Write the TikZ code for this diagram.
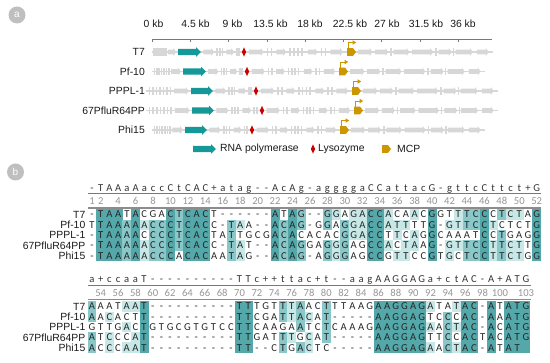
\documentclass[tikz,border=0pt]{standalone}
\usepackage{fontspec}
\setmainfont{Liberation Sans}
\newfontfamily\seqfont{Carlito}
\definecolor{tealD}{RGB}{84,168,170}
\definecolor{tealM}{RGB}{137,199,200}
\definecolor{tealL}{RGB}{200,232,232}
\definecolor{genegray}{RGB}{215,215,215}
\definecolor{polteal}{RGB}{20,152,152}
\definecolor{lysred}{RGB}{204,0,0}
\definecolor{mcpgold}{RGB}{204,150,0}
\definecolor{badgegray}{RGB}{191,191,191}
\definecolor{numgray}{RGB}{150,150,150}
\definecolor{rulegray}{RGB}{120,120,120}
\tikzset{
  lbl/.style={font=\fontsize{10.4}{12}\selectfont, text=black!90, inner sep=0pt},
  seqtxt/.style={font=\seqfont\fontsize{10.6}{12}\selectfont, text=black!85, inner sep=0pt, anchor=base},
  constxt/.style={font=\seqfont\fontsize{10.6}{12}\selectfont, text=black!80, inner sep=0pt, anchor=base},
  numtxt/.style={font=\seqfont\fontsize{10.6}{12}\selectfont, text=numgray, inner sep=0pt, anchor=base},
  badge/.style={circle, fill=badgegray, text=white, minimum size=17pt, inner sep=0pt, font=\fontsize{10}{12}\selectfont},
}
\ExplSyntaxOn
\int_new:N \l_aln_n_int
\int_new:N \l_aln_row_int
\bool_new:N \l_aln_text_bool
\tl_new:N \l_aln_c_tl
\tl_new:N \l_aln_x_tl
\tl_new:N \l_aln_y_tl
\tl_new:N \l_aln_xa_tl
\tl_new:N \l_aln_xb_tl
\tl_new:N \l_aln_ya_tl
\tl_new:N \l_aln_yb_tl
\tl_new:N \l_aln_yt_tl
\tl_new:N \l_aln_fill_tl
\tl_new:N \l_aln_col_tl
\tl_new:N \l_aln_ca_tl
\tl_new:N \l_aln_cb_tl
\tl_new:N \l_aln_cc_tl
\tl_new:N \l_aln_cd_tl
\tl_new:N \l_aln_ce_tl
\str_new:N \l_aln_ra_str
\str_new:N \l_aln_rb_str
\str_new:N \l_aln_rc_str
\str_new:N \l_aln_rd_str
\str_new:N \l_aln_re_str
\fp_const:Nn \c_aln_dy_fp { 10.3 }
\cs_generate_variant:Nn \str_item:Nn { c }
\cs_new_protected:Npn \aln_count:N #1
  {
    \int_zero:N \l_aln_n_int
    \clist_map_inline:nn { a , b , c , d , e }
      {
        \str_if_eq:eeTF { #1 } { \tl_use:c { l_aln_c ##1 _tl } }
          { \int_incr:N \l_aln_n_int }
          {
            \str_if_eq:eeT { . } { \tl_use:c { l_aln_c ##1 _tl } }
              { \int_incr:N \l_aln_n_int }
          }
      }
  }
\cs_new_protected:Npn \aln_pass:nnn #1#2#3
  {
    \int_step_variable:nNn { \str_count:N \l_aln_ra_str } \l_aln_col_tl
      {
        \clist_map_inline:nn { a , b , c , d , e }
          { \tl_set:cx { l_aln_c ##1 _tl } { \str_item:cn { l_aln_r ##1 _str } { \l_aln_col_tl } } }
        \tl_set:Nx \l_aln_x_tl { \fp_eval:n { #1 + ( \l_aln_col_tl - 1 ) * #3 } }
        \tl_set:Nx \l_aln_xa_tl { \fp_eval:n { \l_aln_x_tl - #3 / 2 - 0.1 } }
        \tl_set:Nx \l_aln_xb_tl { \fp_eval:n { \l_aln_x_tl + #3 / 2 + 0.1 } }
        \int_zero:N \l_aln_row_int
        \clist_map_inline:nn { a , b , c , d , e }
          {
            \tl_set_eq:Nc \l_aln_c_tl { l_aln_c ##1 _tl }
            \tl_set:Nx \l_aln_y_tl { \fp_eval:n { #2 + \l_aln_row_int * \c_aln_dy_fp } }
            \int_incr:N \l_aln_row_int
            \tl_set:Nx \l_aln_ya_tl { \fp_eval:n { \l_aln_y_tl - \c_aln_dy_fp / 2 - 0.1 } }
            \tl_set:Nx \l_aln_yb_tl { \fp_eval:n { \l_aln_y_tl + \c_aln_dy_fp / 2 + 0.1 } }
            \tl_set:Nx \l_aln_yt_tl { \fp_eval:n { \l_aln_y_tl + 3.5 } }
            \tl_clear:N \l_aln_fill_tl
            \str_if_eq:eeTF { \l_aln_c_tl } { . }
              { \tl_set:Nn \l_aln_fill_tl { tealD } \tl_clear:N \l_aln_c_tl }
              {
                \str_if_eq:eeF { \l_aln_c_tl } { - }
                  {
                    \aln_count:N \l_aln_c_tl
                    \int_case:nn { \l_aln_n_int }
                      {
                        { 5 } { \tl_set:Nn \l_aln_fill_tl { tealD } }
                        { 4 } { \tl_set:Nn \l_aln_fill_tl { tealM } }
                        { 3 } { \tl_set:Nn \l_aln_fill_tl { tealL } }
                      }
                  }
              }
            \bool_if:NTF \l_aln_text_bool
              {
                \node [ seqtxt ] at ( \l_aln_x_tl , \l_aln_yt_tl ) { \l_aln_c_tl } ;
              }
              {
                \tl_if_empty:NF \l_aln_fill_tl
                  {
                    \fill [ fill = \l_aln_fill_tl ] ( \l_aln_xa_tl , \l_aln_ya_tl ) rectangle ( \l_aln_xb_tl , \l_aln_yb_tl ) ;
                  }
              }
          }
      }
  }
\cs_new_protected:Npn \aln_block:nnnnnnnn #1#2#3#4#5#6#7#8
  {
    \str_set:Nn \l_aln_ra_str {#4}
    \str_set:Nn \l_aln_rb_str {#5}
    \str_set:Nn \l_aln_rc_str {#6}
    \str_set:Nn \l_aln_rd_str {#7}
    \str_set:Nn \l_aln_re_str {#8}
    \bool_set_false:N \l_aln_text_bool
    \aln_pass:nnn {#1} {#2} {#3}
    \bool_set_true:N \l_aln_text_bool
    \aln_pass:nnn {#1} {#2} {#3}
  }
\cs_new_protected:Npn \aln_plain:nnnnn #1#2#3#4#5
  {
    \str_set:Nn \l_aln_ra_str {#5}
    \int_step_variable:nNn { \str_count:N \l_aln_ra_str } \l_aln_col_tl
      {
        \tl_set:Nx \l_aln_x_tl { \fp_eval:n { #1 + ( \l_aln_col_tl - 1 ) * #3 } }
        \tl_set:Nx \l_aln_c_tl { \str_item:Nn \l_aln_ra_str { \l_aln_col_tl } }
        \node [ #4 ] at ( \l_aln_x_tl , #2 ) { \l_aln_c_tl } ;
      }
  }
\NewDocumentCommand \AlnBlock { m m m m m m m m } { \aln_block:nnnnnnnn {#1} {#2} {#3} {#4} {#5} {#6} {#7} {#8} }
\NewDocumentCommand \AlnPlain { m m m m m } { \aln_plain:nnnnn {#1} {#2} {#3} {#4} {#5} }
\ExplSyntaxOff

% ---- genome map helpers ----
\newcommand\gene[3]{% x1 x2 y
  \pgfmathsetmacro\gh{max(#1,#2-2.8)}%
  \fill[genegray] (#1,#3-2.4) -- (\gh,#3-2.4) -- (\gh,#3-3.8) -- (#2,#3) -- (\gh,#3+3.8) -- (\gh,#3+2.4) -- (#1,#3+2.4) -- cycle;}
\newcommand\gtick[2]{\fill[genegray] (#1-0.75,#2-3.6) rectangle (#1+0.75,#2+3.6);}
\newcommand\region[5]{% x1 x2 y genes ticks
  \foreach \a/\b in {#4} {\pgfmathsetmacro\ga{(#1)+\a*((#2)-(#1))}\pgfmathsetmacro\gb{(#1)+\b*((#2)-(#1))}\gene{\ga}{\gb}{#3}}%
  \foreach \f in {#5} {\pgfmathsetmacro\gx{(#1)+\f*((#2)-(#1))}\gtick{\gx}{#3}}}
\newcommand\polarrow[3]{% x1 x2 y
  \fill[polteal] (#1,#3-3.2) -- (#2-5,#3-3.2) -- (#2-5,#3-4.8) -- (#2,#3) -- (#2-5,#3+4.8) -- (#2-5,#3+3.2) -- (#1,#3+3.2) -- cycle;}
\newcommand\lys[2]{\fill[lysred] (#1,#2-4.6) -- (#1+2.1,#2) -- (#1,#2+4.6) -- (#1-2.1,#2) -- cycle;}
\newcommand\mcpbox[2]{\fill[mcpgold] (#1,#2-3.9) -- (#1+6,#2-3.9) -- (#1+9,#2) -- (#1+6,#2+3.9) -- (#1,#2+3.9) -- cycle;}
\newcommand\mcp[2]{% x y
  \mcpbox{#1}{#2}
  \draw[mcpgold, line width=0.8] (#1+1,#2-3.9) -- (#1+1,#2-9.5) -- (#1+6,#2-9.5);
  \fill[mcpgold] (#1+5.5,#2-11.8) -- (#1+9.2,#2-9.5) -- (#1+5.5,#2-7.2) -- cycle;}
\newcommand\track[9]{% name y start end t1 t2 red mcp label
  \node[lbl, anchor=east] (#1) at (145,#2) {#9};
  \draw[genegray, line width=1.3] (#3,#2) -- (#4,#2);
  \region{#3}{#5-1}{#2}{0.64/0.97}{0.08,0.16,0.24,0.32,0.4,0.48,0.56}
  \region{#6+1.5}{#7-3}{#2}{0.02/0.3,0.62/0.82}{0.38,0.45,0.52,0.89,0.95}
  \region{#7+3}{#8-2}{#2}{0.02/0.17,0.3/0.4,0.62/0.72,0.85/0.98}{0.21,0.25,0.44,0.48,0.52,0.56,0.76,0.8}
  \region{#8+11}{#4-3}{#2}{0/0.11,0.13/0.23,0.27/0.39,0.41/0.57,0.61/0.71,0.74/0.87,0.9/0.99}{0.25,0.59,0.725}
  \polarrow{#5}{#6}{#2}
  \lys{#7}{#2}
  \mcp{#8}{#2}}

\begin{document}
\begin{tikzpicture}[x=1pt,y=-1pt]
\useasboundingbox (0,0) rectangle (550,363);
% ===== panel a =====
\node[badge] (ba) at (17,15) {a};
\foreach \lab/\cx [count=\i from 0] in {0 kb/153.5,4.5 kb/195.5,9 kb/232.5,13.5 kb/270.5,18 kb/310,22.5 kb/350,27 kb/387,31.5 kb/426,36 kb/463}
  {\node[lbl] (ax\i) at (\cx,23.5) {\lab};
   \draw[rulegray, line width=0.7] ({152+\i*38.3},39.5) -- ++(0,3);}
\draw[rulegray, line width=0.7] (152,39.5) -- (492,39.5);
\track{tT}{52}{152}{493}{178}{201}{244}{347}{T7}
\track{tP}{71.5}{152}{485}{183}{206}{247}{339}{Pf-10}
\track{tL}{91}{146}{498}{191}{213}{256}{352}{PPPL-1}
\track{tS}{110.5}{146}{498}{192}{214}{262}{354}{67PfluR64PP}
\track{tH}{130}{152}{485}{185}{207}{252}{340}{Phi15}
% legend
\polarrow{193}{216}{149}
\node[lbl, anchor=west] (lg1) at (220,149) {RNA polymerase};
\lys{313}{149}
\node[lbl, anchor=west] (lg2) at (318,149) {Lysozyme};
\mcpbox{382}{149}
\node[lbl, anchor=west] (lg3) at (397,149) {MCP};
% ===== panel b =====
\node[badge] (bb) at (15.5,172) {b};
% block 1
\AlnPlain{92}{191.5}{8.72}{constxt}{-TAAaAaccCtCAC+atag--AcAg-aggggaCCattacG-gttcCttct+G}
\draw[rulegray, line width=0.7] (88,193.8) -- (541,193.8);
\foreach \c in {1,2,4,6,...,52} \node[numtxt] at ({92+(\c-1)*8.72},204.8) {\c};
\draw[black!45, line width=1.5] (88,208) -- (541,208);
\AlnBlock{92}{214.5}{8.72}
  {-TAATACGACTCACT------ATAG--GGAGACCACAACGGTTTCCCTCTAG}
  {TTAAAAACCCTCACC-TAA--ACAG-GGAGGACCATTTTG-GTTCCTCTCTG}
  {-TAAAACCCCTCACTATTGCGACACACACGGACCTTCAGGCAAATCCTGAGG}
  {-TAAAAACCCTCACC-TAT--ACAGGAGGGAGCCACTAAG-GTTCCTTCTTG}
  {-TAAAAACCCACACAATAG--ACAG-AGGGAGCCGTTCCGTGCTCCTTCTGG}
\foreach \nm/\lab [count=\r from 0] in {b1T/T7,b1P/Pf-10,b1L/PPPL-1,b1S/67PfluR64PP,b1H/Phi15}
  \node[lbl, anchor=east] (\nm) at (85.5,{214.5+\r*10.3}) {\lab};
% block 2
\AlnPlain{92}{282.8}{8.68}{constxt}{a+ccaaT----------TTc++ttac+t--aagAAGGAGa+ctAC-A+ATG}
\draw[rulegray, line width=0.7] (88,285.2) -- (531,285.2);
\foreach \c in {54,56,...,100,103} \node[numtxt] at ({92+(\c-53)*8.68},296.2) {\c};
\draw[black!45, line width=1.5] (88,299.5) -- (531,299.5);
\AlnBlock{92}{306.5}{8.68}
  {AAATAAT----------TTTGTTTAACTTTAAGAAGGAGATATAC-ATATG}
  {AACACTT----------TTCGATTACAT-----AAGGAGTCCCAC-AAATG}
  {GTTGACTGTGCGTGTCCTTCAAGAATCTCAAAGAAGGAGAACTAC-ACATG}
  {ATCCCAT----------TTGATTTGCAT-----AAGGAGTTCCACTACATG}
  {ACCCAAT----------TT--CTGACTC-----AAGGAGAACTAC-ATAT.}
\foreach \nm/\lab [count=\r from 0] in {b2T/T7,b2P/Pf-10,b2L/PPPL-1,b2S/67PfluR64PP,b2H/Phi15}
  \node[lbl, anchor=east] (\nm) at (85.5,{306.5+\r*10.3}) {\lab};
\end{tikzpicture}
\end{document}
